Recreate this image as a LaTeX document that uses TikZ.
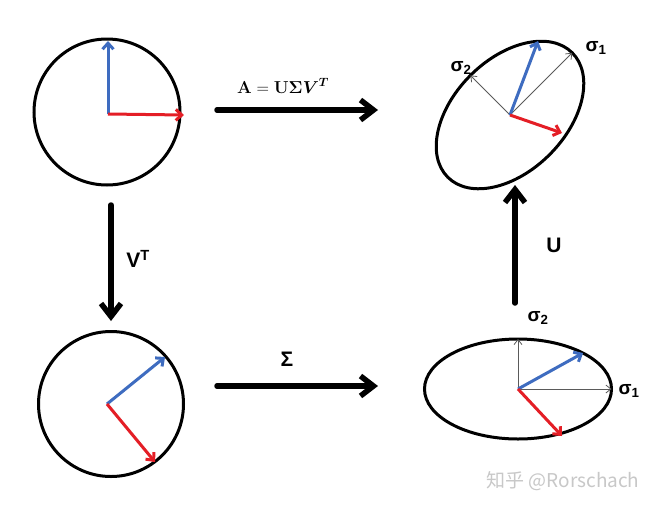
\documentclass[tikz,border=0pt]{standalone}
\usepackage{amsmath,bm}
\usepackage[no-math]{fontspec}
\setsansfont{Liberation Sans}
\newfontfamily\cjk{Noto Sans CJK SC}
\usetikzlibrary{arrows.meta,shapes.geometric}
\definecolor{vecblue}{RGB}{62,108,192}
\definecolor{vecred}{RGB}{228,30,38}
\definecolor{axgray}{RGB}{90,90,90}
\definecolor{wmgray}{RGB}{200,200,200}
\begin{document}
\begin{tikzpicture}[x=1pt,y=-1pt,
  shapeline/.style={draw=black, line width=3pt, inner sep=0pt, outer sep=0pt},
  bigarrow/.style={line width=5.5pt, line cap=round, line join=round, -{Straight Barb[length=13pt,width=20pt]}},
  bluevec/.style={vecblue, line width=3pt, line join=round, -{Straight Barb[length=6pt,width=11pt]}},
  redvec/.style={vecred, line width=3pt, line join=round, -{Straight Barb[length=6pt,width=11pt]}},
  axvec/.style={axgray, line width=0.8pt, -{Straight Barb[length=5pt,width=8pt]}},
  siglabel/.style={font=\sffamily\bfseries\fontsize{19}{19}\selectfont, inner sep=0pt},
  oplabel/.style={font=\sffamily\bfseries\fontsize{21}{21}\selectfont, inner sep=0pt}
]
\fill[white] (0,0) rectangle (661,509);
\useasboundingbox (0,0) rectangle (661,509);

% top-left circle
\node[shapeline, circle, minimum size=146pt] (c1) at (107,112) {};
\coordinate (o1) at (108,114);
\coordinate (b1) at (108,41);
\coordinate (r1) at (184,115);
\draw[bluevec] (o1) -- (b1);
\draw[redvec] (o1) -- (r1);

% bottom-left circle
\node[shapeline, circle, minimum size=145pt] (c2) at (111,404) {};
\coordinate (o2) at (107,404);
\coordinate (b2) at (165,357);
\coordinate (r2) at (155,462);
\draw[bluevec] (o2) -- (b2);
\draw[redvec] (o2) -- (r2);

% bottom-right ellipse
\node[shapeline, ellipse, minimum width=187pt, minimum height=100pt] (e2) at (518,389) {};
\draw[axvec] (e2.center) -- (e2.north);
\draw[axvec] (e2.center) -- (e2.east);
\coordinate (b3) at (583,353);
\coordinate (r3) at (562,436);
\draw[bluevec] (e2.center) -- (b3);
\draw[redvec] (e2.center) -- (r3);
\node[siglabel] (s2b) at (538,318) {σ\textsubscript{2}};
\node[siglabel] (s1b) at (629,391) {σ\textsubscript{1}};

% top-right ellipse
\node[shapeline, ellipse, rotate=45, minimum width=176pt, minimum height=112pt] (e1) at (510,115) {};
\draw[axvec] (e1.center) -- (e1.east);
\draw[axvec] (e1.center) -- (e1.north);
\coordinate (b4) at (538,41);
\coordinate (r4) at (562,133);
\draw[bluevec] (e1.center) -- (b4);
\draw[redvec] (e1.center) -- (r4);
\node[siglabel] (s2t) at (461,68) {σ\textsubscript{2}};
\node[siglabel] (s1t) at (596,48) {σ\textsubscript{1}};

% big arrows
\coordinate (a1s) at (217,110);
\coordinate (a1e) at (378,110);
\draw[bigarrow] (a1s) -- (a1e);
\node[inner sep=0pt] (lA) at (283,86) {\fontsize{17}{17}\selectfont $\mathbf{A}=\mathbf{U}\mathbf{\Sigma}\boldsymbol{V}^{\boldsymbol{T}}$};

\coordinate (a2s) at (217,386);
\coordinate (a2e) at (378,386);
\draw[bigarrow] (a2s) -- (a2e);
\node[oplabel] (lS) at (287,359) {Σ};

\coordinate (a3s) at (111,205);
\coordinate (a3e) at (111,321);
\draw[bigarrow] (a3s) -- (a3e);
\node[oplabel] (lV) at (138,259) {V\textsuperscript{T}};

\coordinate (a4s) at (515,303);
\coordinate (a4e) at (515,185);
\draw[bigarrow] (a4s) -- (a4e);
\node[oplabel] (lU) at (554,245) {U};

% watermark
\node[text=wmgray, inner sep=0pt] (wm) at (563,481) {\cjk\fontsize{19}{19}\selectfont 知乎 @Rorschach};
\end{tikzpicture}
\end{document}
